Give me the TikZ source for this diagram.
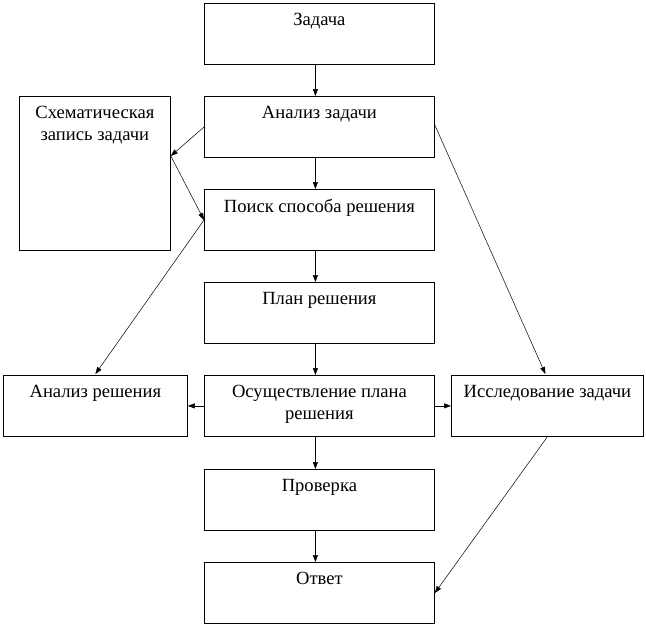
\documentclass[tikz,border=0pt]{standalone}
\usepackage{fontspec}
\setmainfont{Liberation Serif}
\usepackage{tikz}
\usetikzlibrary{
  arrows.meta
  , calc
}

\tikzset{
  box/.style={draw=black, line width=0.8pt, rectangle, inner sep=0pt, anchor=north west},
  txt/.style={anchor=north, align=center, inner sep=0pt, font=\fontsize{18.6}{21.5}\selectfont},
  arr/.style={-{Triangle[length=7pt,width=5pt]}, line width=0.5pt}
}

\begin{document}
\begin{tikzpicture}[x=1pt, y=-1pt]
      \useasboundingbox (0,0) rectangle (646,627);

      % middle column
      \node [box, minimum width=230pt, minimum height=61pt] (zad) at (204,3) {};
      \node [box, minimum width=230pt, minimum height=61pt] (anz) at (204,96) {};
      \node [box, minimum width=230pt, minimum height=61pt] (poisk) at (204,189) {};
      \node [box, minimum width=230pt, minimum height=61pt] (plan) at (204,282) {};
      \node [box, minimum width=230pt, minimum height=61pt] (osu) at (204,375) {};
      \node [box, minimum width=230pt, minimum height=61pt] (prov) at (204,469) {};
      \node [box, minimum width=230pt, minimum height=61pt] (otv) at (204,562) {};

      % side boxes
      \node [box, minimum width=151pt, minimum height=154pt] (schem) at (19,96) {};
      \node [box, minimum width=184pt, minimum height=61pt] (anr) at (3,375) {};
      \node [box, minimum width=192pt, minimum height=61pt] (isl) at (451,375) {};

      % texts
      \node [txt] (zadT) at ($(zad.north)+(0,10)$) {Задача};
      \node [txt] (anzT) at ($(anz.north)+(0,10)$) {Анализ задачи};
      \node [txt] (poiskT) at ($(poisk.north)+(0,10)$) {Поиск способа решения};
      \node [txt] (planT) at ($(plan.north)+(0,10)$) {План решения};
      \node [txt] (osuT) at ($(osu.north)+(0,10)$) {Осуществление плана\\решения};
      \node [txt] (provT) at ($(prov.north)+(0,10)$) {Проверка};
      \node [txt] (otvT) at ($(otv.north)+(0,10)$) {Ответ};
      \node [txt] (schemT) at ($(schem.north)+(0,10)$) {Схематическая\\запись задачи};
      \node [txt] (anrT) at ($(anr.north)+(0,10)$) {Анализ решения};
      \node [txt] (islT) at ($(isl.north)+(0,10)$) {Исследование задачи};

      % vertical chain (a bit left of centre)
      \draw [arr] ([xshift=-4pt]zad.south) -- ([xshift=-4pt]anz.north);
      \draw [arr] ([xshift=-4pt]anz.south) -- ([xshift=-4pt]poisk.north);
      \draw [arr] ([xshift=-4pt]poisk.south) -- ([xshift=-4pt]plan.north);
      \draw [arr] ([xshift=-4pt]plan.south) -- ([xshift=-4pt]osu.north);
      \draw [arr] ([xshift=-4pt]osu.south) -- ([xshift=-4pt]prov.north);
      \draw [arr] ([xshift=-4pt]prov.south) -- ([xshift=-4pt]otv.north);

      % side arrows
      \coordinate (schemR) at ($(schem.north east)+(0,60)$);
      \coordinate (anzL) at ($(anz.north west)+(0,31)$);
      \coordinate (anzR) at ($(anz.north east)+(0,29)$);
      \coordinate (poiskL) at ($(poisk.north west)+(0,31)$);
      \coordinate (anrTop) at ($(anr.north)+(0,-1)$);
      \coordinate (islTop) at ($(isl.north)+(-2,-1)$);
      \coordinate (otvR) at ($(otv.north east)+(0,31)$);
      \draw [arr] (anzL) -- (schemR);
      \draw [arr] (schemR) -- (poiskL);
      \draw [arr] (poiskL) -- (anrTop);
      \draw [arr] (anzR) -- (islTop);
      \draw [arr] (isl.south) -- (otvR);
      \draw [arr] (osu.west) -- (anr.east);
      \draw [arr] (osu.east) -- (isl.west);
\end{tikzpicture}
\end{document}
